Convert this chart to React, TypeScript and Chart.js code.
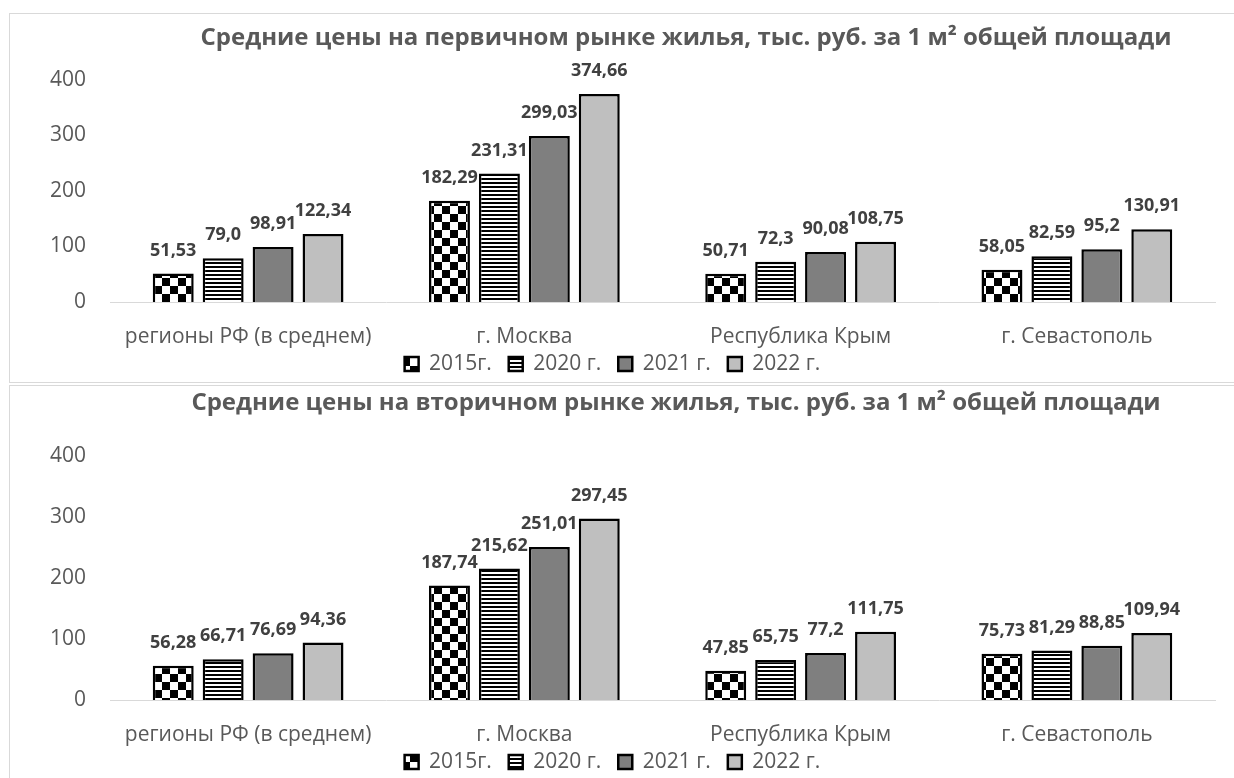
import React, { useEffect, useRef } from "react";
import { Chart, registerables } from "chart.js";

Chart.register(...registerables);

const categories = ["регионы РФ (в среднем)", "г. Москва", "Республика Крым", "г. Севастополь"];
const seriesNames = ["2015г.", "2020 г.", "2021 г.", "2022 г."];

const primary2015 = [51.53, 182.29, 50.71, 58.05];
const primary2020 = [79.0, 231.31, 72.3, 82.59];
const primary2021 = [98.91, 299.03, 90.08, 95.2];
const primary2022 = [122.34, 374.66, 108.75, 130.91];

const secondary2015 = [56.28, 187.74, 47.85, 75.73];
const secondary2020 = [66.71, 215.62, 65.75, 81.29];
const secondary2021 = [76.69, 251.01, 77.2, 88.85];
const secondary2022 = [94.36, 297.45, 111.75, 109.94];

const yTicks = [0, 100, 200, 300, 400];

const titlePrimary = "Средние цены на первичном рынке жилья, тыс. руб. за 1 м² общей площади";
const titleSecondary = "Средние цены на вторичном рынке жилья, тыс. руб. за 1 м² общей площади";

const FONT = "'Open Sans', 'Noto Sans', sans-serif";
const TEXT = "#595959";

function makeChecker(): CanvasPattern | string {
  const c = document.createElement("canvas");
  c.width = 16;
  c.height = 16;
  const g = c.getContext("2d");
  if (!g) return "#000";
  g.fillStyle = "#fff";
  g.fillRect(0, 0, 16, 16);
  g.fillStyle = "#000";
  g.fillRect(0, 0, 8, 8);
  g.fillRect(8, 8, 8, 8);
  return g.createPattern(c, "repeat") || "#000";
}

function makeStripes(): CanvasPattern | string {
  const c = document.createElement("canvas");
  c.width = 8;
  c.height = 4;
  const g = c.getContext("2d");
  if (!g) return "#000";
  g.fillStyle = "#fff";
  g.fillRect(0, 0, 8, 4);
  g.fillStyle = "#000";
  g.fillRect(0, 0, 8, 2);
  return g.createPattern(c, "repeat") || "#000";
}

function fmt(v: number): string {
  if (Number.isInteger(v)) return v + ",0";
  return String(v).replace(".", ",");
}

const titlePlugin = {
  id: "customTitle",
  afterDraw(chart: any, _args: any, opts: any) {
    const ctx = chart.ctx;
    ctx.save();
    ctx.font = `bold ${opts.size}px ${FONT}`;
    ctx.fillStyle = TEXT;
    ctx.textAlign = "center";
    ctx.textBaseline = "middle";
    ctx.fillText(opts.text, opts.x, opts.y);
    ctx.restore();
  },
};

const legendShift = {
  id: "legendShift",
  afterLayout(chart: any, _args: any, opts: any) {
    const lg = chart.legend;
    if (lg && opts.dy) {
      lg.top -= opts.dy;
      lg.bottom -= opts.dy;
    }
  },
};

const valueLabels = {
  id: "valueLabels",
  afterDatasetsDraw(chart: any) {
    const ctx = chart.ctx;
    ctx.save();
    ctx.font = `bold 18px ${FONT}`;
    ctx.fillStyle = "#404040";
    ctx.textAlign = "center";
    ctx.textBaseline = "middle";
    chart.data.datasets.forEach((ds: any, i: number) => {
      const meta = chart.getDatasetMeta(i);
      meta.data.forEach((el: any, j: number) => {
        ctx.fillText(fmt(ds.data[j]), el.x, el.y - 23);
      });
    });
    ctx.restore();
  },
};

function buildConfig(series: number[][], title: string, titleX: number, titleY: number, padTop: number): any {
  const fills = [makeChecker(), makeStripes(), "#7f7f7f", "#bfbfbf"];
  return {
    type: "bar",
    data: {
      labels: categories,
      datasets: series.map((d, i) => ({
        label: seriesNames[i],
        data: d,
        backgroundColor: fills[i],
        borderColor: "#000",
        borderWidth: 2.5,
        categoryPercentage: 0.723,
        barPercentage: 0.82,
      })),
    },
    options: {
      responsive: false,
      animation: false,
      layout: { padding: { top: padTop, left: 0, right: 19, bottom: 0 } },
      scales: {
        x: {
          grid: { display: false, drawTicks: false },
          border: { display: true, color: "#d9d9d9", width: 1 },
          ticks: { color: TEXT, font: { family: FONT, size: 21 }, padding: 22 },
          afterFit: (s: any) => {
            s.height = 48;
          },
        },
        y: {
          min: 0,
          max: 400,
          grid: { display: false, drawTicks: false },
          border: { display: false },
          ticks: { color: TEXT, font: { family: FONT, size: 21 }, padding: 24, stepSize: 100 },
          afterBuildTicks: (s: any) => {
            s.ticks = yTicks.map((v) => ({ value: v }));
          },
          afterFit: (s: any) => {
            s.width = 100;
          },
        },
      },
      plugins: {
        legend: {
          position: "bottom",
          labels: {
            boxWidth: 14,
            boxHeight: 14,
            color: TEXT,
            font: { family: FONT, size: 21 },
            padding: 17,
          },
        },
        tooltip: { enabled: false },
        customTitle: { text: title, x: titleX, y: titleY, size: 24 },
        legendShift: { dy: 13.5 },
      },
    },
    plugins: [legendShift, titlePlugin, valueLabels],
  };
}

function ChartBox(props: { series: number[][]; title: string; titleX: number; titleY: number; padTop: number; canvasH: number; boxTop: number; boxH: number }) {
  const ref = useRef<HTMLCanvasElement | null>(null);
  useEffect(() => {
    if (!ref.current) return;
    const chart = new Chart(ref.current, buildConfig(props.series, props.title, props.titleX, props.titleY, props.padTop));
    return () => chart.destroy();
  }, []);
  return (
    <div
      style={{
        position: "absolute",
        left: 9,
        top: props.boxTop,
        width: 1240,
        height: props.boxH,
        border: "1px solid #d9d9d9",
        overflow: "hidden",
        background: "#fff",
      }}
    >
      <canvas ref={ref} width={1224} height={props.canvasH} style={{ display: "block", width: 1224, height: props.canvasH }} />
    </div>
  );
}

export default function App() {
  return (
    <div style={{ position: "fixed", inset: 0, overflow: "hidden", background: "#fff" }}>
      <ChartBox
        series={[primary2015, primary2020, primary2021, primary2022]}
        title={titlePrimary}
        titleX={676}
        titleY={24}
        padTop={66}
        canvasH={384}
        boxTop={13}
        boxH={368}
      />
      <ChartBox
        series={[secondary2015, secondary2020, secondary2021, secondary2022]}
        title={titleSecondary}
        titleX={666}
        titleY={17}
        padTop={70}
        canvasH={410}
        boxTop={385}
        boxH={420}
      />
    </div>
  );
}
